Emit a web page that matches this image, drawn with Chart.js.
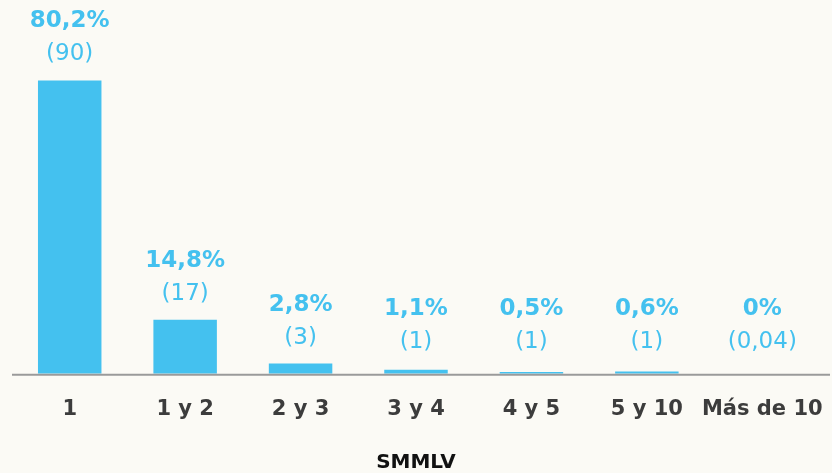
<!DOCTYPE html>
<html lang="es">
<head>
<meta charset="UTF-8">
<title>SMMLV</title>
<script src="https://cdn.jsdelivr.net/npm/chart.js"></script>
<style>
    body, html { margin: 0; padding: 0; background: #fbfaf5; }
    #wrap { width: 832px; height: 473px; }
</style>
</head>
<body>
<div id="wrap"><canvas id="chart" width="832" height="473"></canvas></div>
<script>
// datos
const categories = ['1', '1 y 2', '2 y 3', '3 y 4', '4 y 5', '5 y 10', 'Más de 10'];
const percentValues = [80.2, 14.8, 2.8, 1.1, 0.5, 0.6, 0];
const percentLabels = ['80,2%', '14,8%', '2,8%', '1,1%', '0,5%', '0,6%', '0%'];
const countLabels = ['(90)', '(17)', '(3)', '(1)', '(1)', '(1)', '(0,04)'];

const BLUE = '#44c1ef';
const FONT = "'DejaVu Sans', sans-serif";

// etiquetas sobre las barras + línea del eje
const barLabels = {
    id: 'barLabels',
    afterDatasetsDraw(chart) {
        const ctx = chart.ctx;
        const area = chart.chartArea;
        ctx.save();
        ctx.strokeStyle = '#9a9a9a';
        ctx.lineWidth = 2;
        ctx.beginPath();
        ctx.moveTo(12, area.bottom + 1);
        ctx.lineTo(830, area.bottom + 1);
        ctx.stroke();

        const meta = chart.getDatasetMeta(0);
        ctx.fillStyle = BLUE;
        ctx.textAlign = 'center';
        ctx.textBaseline = 'middle';
        meta.data.forEach((bar, i) => {
            const top = bar.y;
            const pctY = Math.min(top - 59, area.bottom - 65);
            const cntY = Math.min(top - 26, area.bottom - 32);
            ctx.font = 'bold 23px ' + FONT;
            ctx.fillText(percentLabels[i], bar.x, pctY);
            ctx.font = '23px ' + FONT;
            ctx.fillText(countLabels[i], bar.x, cntY);
        });
        ctx.restore();
    }
};

new Chart(document.getElementById('chart'), {
    type: 'bar',
    data: {
        labels: categories,
        datasets: [{
            data: percentValues,
            backgroundColor: BLUE,
            borderWidth: 0,
            barPercentage: 0.55,
            categoryPercentage: 1
        }]
    },
    options: {
        responsive: false,
        animation: false,
        layout: { padding: { left: 12, right: 12, top: 8, bottom: 0 } },
        plugins: {
            legend: { display: false },
            tooltip: { enabled: false }
        },
        scales: {
            y: { display: false, min: 0, max: 100 },
            x: {
                grid: { display: false, drawTicks: false },
                border: { display: false },
                afterFit(scale) {
                    scale.paddingLeft = 0;
                    scale.paddingRight = 0;
                },
                ticks: {
                    color: '#3c3c3c',
                    padding: 23,
                    maxRotation: 0,
                    minRotation: 0,
                    autoSkip: false,
                    font: { family: FONT, size: 21, weight: 'bold' }
                },
                title: {
                    display: true,
                    text: 'SMMLV',
                    color: '#111',
                    padding: { top: 6, bottom: -2 },
                    font: { family: FONT, size: 20, weight: 'bold' }
                }
            }
        }
    },
    plugins: [barLabels]
});
</script>
</body>
</html>
